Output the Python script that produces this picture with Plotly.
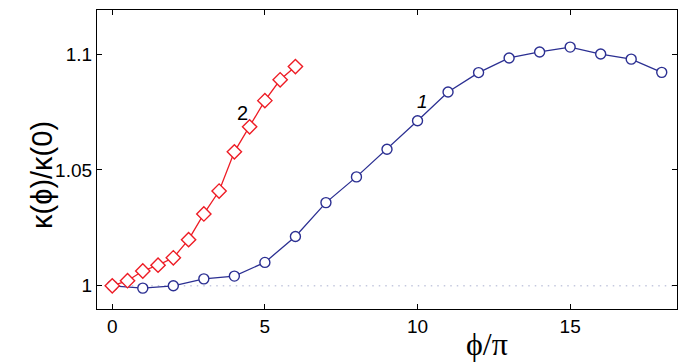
import plotly.graph_objects as go

# Series 1 (blue circles)
x1 = [0, 1, 2, 3, 4, 5, 6, 7, 8, 9, 10, 11, 12, 13, 14, 15, 16, 17, 18]
y1 = [1.0, 0.999, 1.0, 1.003, 1.0042, 1.0101, 1.0213, 1.0359, 1.047, 1.0589,
      1.0712, 1.0836, 1.0920, 1.0983, 1.1009, 1.1030, 1.1000, 1.0978, 1.0921]

# Series 2 (red diamonds)
x2 = [0, 0.5, 1, 1.5, 2, 2.5, 3, 3.5, 4, 4.5, 5, 5.5, 6]
y2 = [1.0, 1.0022, 1.0064, 1.0089, 1.0121, 1.0199, 1.031, 1.0409, 1.0578,
      1.0686, 1.0799, 1.0889, 1.0946]

xticks = [0, 5, 10, 15]
yticks = [1.0, 1.05, 1.1]
ytick_text = ["1", "1.05", "1.1"]

blue = "#2b2f92"
red = "#ee1c25"

fig = go.Figure()

fig.add_shape(type="line", x0=0, x1=18.5, y0=1.0, y1=1.0, xref="x", yref="y",
              line=dict(color="#c5c9df", width=1.5, dash="1.5px,5px"), layer="below")

fig.add_trace(go.Scatter(
    x=x1, y=y1, mode="lines+markers",
    line=dict(color=blue, width=1.3),
    marker=dict(symbol="circle", size=10, color="white",
                line=dict(color=blue, width=1.4)),
    showlegend=False))

fig.add_trace(go.Scatter(
    x=x2, y=y2, mode="lines+markers",
    line=dict(color=red, width=1.3),
    marker=dict(symbol="diamond", size=11, color="white",
                line=dict(color=red, width=1.4)),
    showlegend=False))

fig.add_annotation(x=4.27, y=1.0746, text="2", showarrow=False,
                   font=dict(family="Liberation Sans", size=20, color="black"))
fig.add_annotation(x=10.16, y=1.0795, text="<i>1</i>", showarrow=False,
                   font=dict(family="Liberation Sans", size=19, color="black"))

# Axis titles
fig.add_annotation(xref="paper", yref="paper",
                   x=(487 - 97) / 580, y=-(344 - 309) / 299,
                   text="ϕ/π", showarrow=False,
                   xanchor="center", yanchor="middle",
                   font=dict(family="Liberation Serif", size=32, color="black"))
fig.add_annotation(xref="paper", yref="paper",
                   x=-(97 - 42) / 580, y=(309 - 175) / 299,
                   text="κ(ϕ)/κ(0)", showarrow=False, textangle=-90,
                   xanchor="center", yanchor="middle",
                   font=dict(family="Liberation Sans", size=29, color="black"))

axis_common = dict(showgrid=False, zeroline=False, showline=True, linecolor="black",
                   linewidth=1.3, mirror="ticks", ticks="inside", ticklen=5,
                   tickcolor="black", tickwidth=1.2,
                   tickfont=dict(family="Liberation Sans", size=19, color="black"))

fig.update_xaxes(range=[-0.5, 18.5], tickvals=xticks, **axis_common)
fig.update_yaxes(range=[0.99, 1.119], tickvals=yticks, ticktext=ytick_text, **axis_common)

fig.update_layout(
    width=692, height=363,
    margin=dict(l=97, r=15, t=10, b=54),
    plot_bgcolor="white", paper_bgcolor="white",
)

fig.write_html("out.html")
